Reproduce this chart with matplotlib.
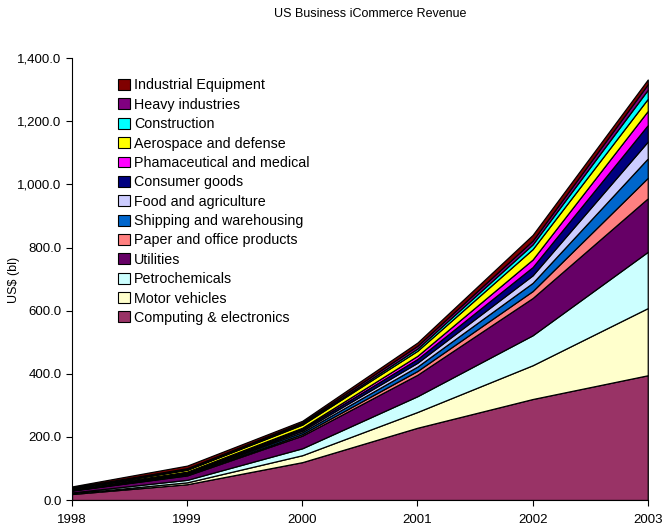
import matplotlib
matplotlib.use("Agg")
import matplotlib.pyplot as plt
from matplotlib.ticker import FuncFormatter
from matplotlib.patches import Patch

plt.rcParams['font.family'] = ['Liberation Sans', 'DejaVu Sans']

years = [1998, 1999, 2000, 2001, 2002, 2003]

series_names = [
    "Computing & electronics", "Motor vehicles", "Petrochemicals", "Utilities",
    "Paper and office products", "Shipping and warehousing", "Food and agriculture",
    "Consumer goods", "Phamaceutical and medical", "Aerospace and defense",
    "Construction", "Heavy industries", "Industrial Equipment",
]

computing = [19.0, 50.0, 120.0, 229.0, 320.0, 395.3]
motor = [2.0, 6.0, 22.0, 50.0, 107.0, 212.8]
petro = [3.0, 8.0, 22.0, 50.0, 95.0, 178.3]
utilities = [6.0, 14.0, 40.0, 68.0, 118.0, 169.5]
paper = [1.0, 2.0, 5.0, 12.0, 22.0, 64.9]
shipping = [1.0, 3.0, 6.0, 14.0, 26.0, 61.4]
food = [1.0, 2.0, 5.0, 12.0, 24.0, 53.6]
consumer = [1.0, 3.0, 5.0, 12.0, 26.0, 52.1]
pharma = [1.0, 2.0, 4.0, 10.0, 24.0, 44.9]
aerospace = [2.0, 6.0, 10.0, 16.0, 33.0, 38.4]
construction = [0.5, 1.0, 3.0, 7.0, 15.0, 28.7]
heavy = [2.0, 4.0, 4.0, 9.0, 12.0, 17.4]
industrial = [3.5, 8.0, 5.0, 10.0, 18.0, 15.0]

colors = ["#993366", "#FFFFCC", "#CCFFFF", "#660066", "#FF8080", "#0066CC",
          "#CCCCFF", "#000080", "#FF00FF", "#FFFF00", "#00FFFF", "#800080", "#800000"]

data = [computing, motor, petro, utilities, paper, shipping, food, consumer,
        pharma, aerospace, construction, heavy, industrial]

fig = plt.figure(figsize=(6.63, 5.29), dpi=100)
ax = fig.add_axes([0.1086, 0.0548, 0.977 - 0.1086, 0.890 - 0.0548])

ax.stackplot(years, *data, colors=colors, edgecolor="black", linewidth=0.9)

ax.set_xlim(1998, 2003)
ax.set_ylim(0, 1400)
ax.set_yticks(range(0, 1401, 200))
ax.yaxis.set_major_formatter(FuncFormatter(lambda v, p: f"{v:,.1f}"))
ax.set_xticks(years)
ax.tick_params(axis='both', labelsize=9.5, direction='out', length=4, width=0.8)
ax.tick_params(axis='x', pad=6)
for s in ["top", "right"]:
    ax.spines[s].set_visible(False)

fig.text(14 / 663, 1 - 280 / 529, "US$ (bl)", rotation=90, ha="center", va="center", fontsize=9)
fig.text(0.558, 0.9735, "US Business iCommerce Revenue", ha="center", va="center", fontsize=9)

handles = [Patch(facecolor=c, edgecolor="black", linewidth=0.8) for c in colors]
leg = ax.legend(handles[::-1], series_names[::-1], loc="upper left",
                bbox_to_anchor=(0.0703, 0.967), frameon=False, fontsize=10.3,
                handlelength=0.8, handleheight=0.8, handletextpad=0.3,
                labelspacing=0.375, borderaxespad=0)

fig.savefig("out.png", dpi=100)
